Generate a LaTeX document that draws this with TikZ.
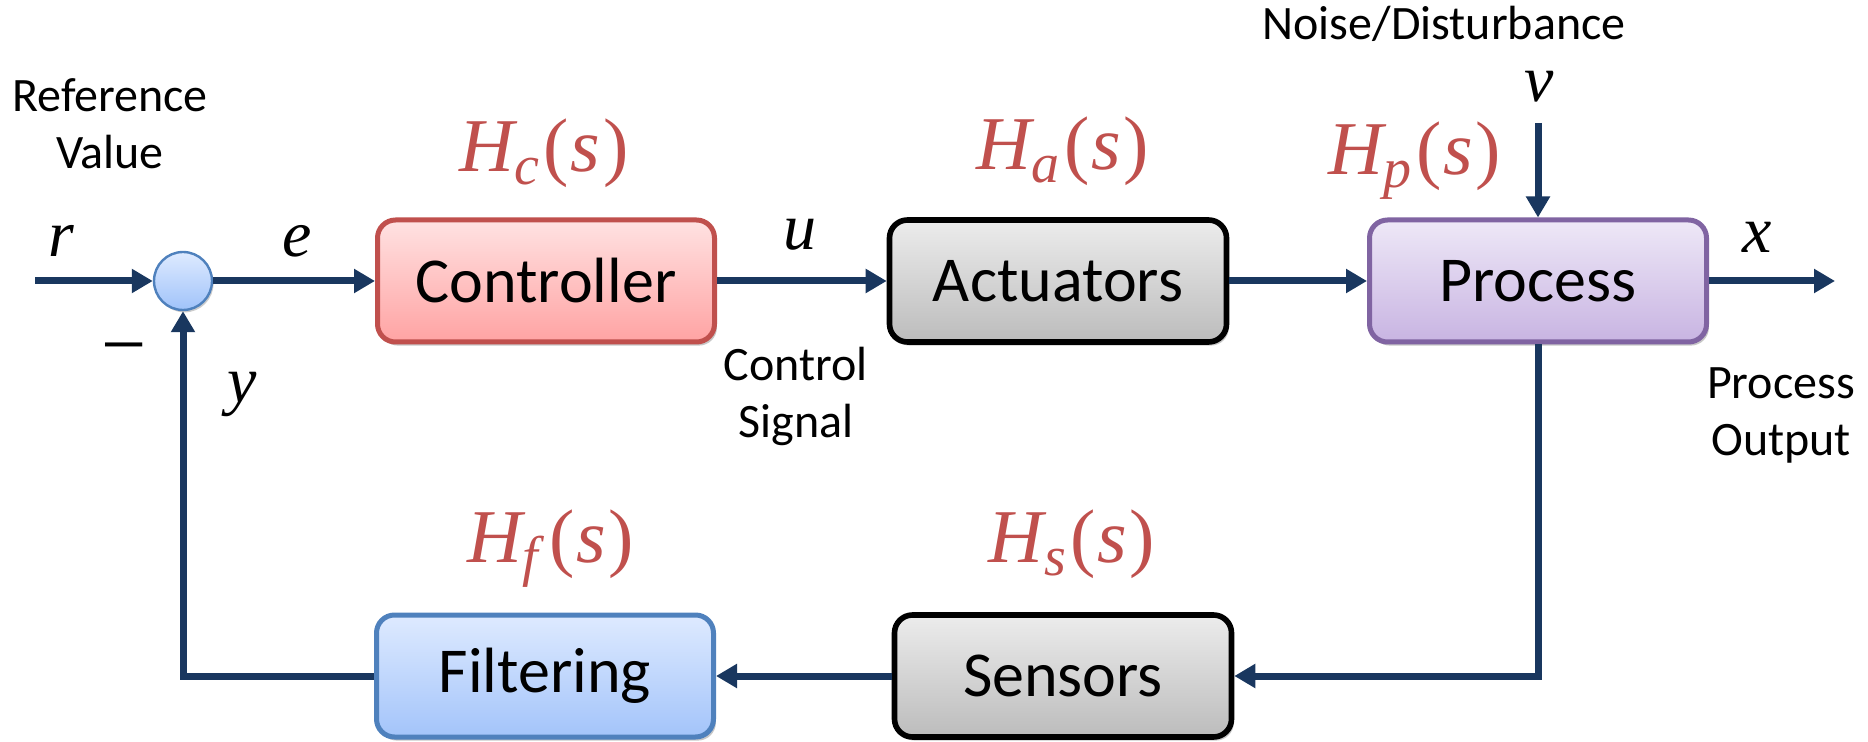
\documentclass[tikz,border=0pt]{standalone}
\usepackage{fontspec}
\setmainfont{Carlito}
\newfontfamily\vf{Liberation Serif}
\usetikzlibrary{arrows.meta,shadows}
\definecolor{arrowc}{RGB}{25,55,95}
\definecolor{hred}{RGB}{192,80,77}
\definecolor{ctrlline}{RGB}{192,80,77}
\definecolor{procline}{RGB}{128,100,162}
\definecolor{filtline}{RGB}{79,129,189}
\newcommand{\tfH}[1]{\textit{H}\kern-0.04em\raisebox{-0.17em}{\fontsize{28}{28}\selectfont\textit{#1}}\kern0.06em(\kern0.02em\textit{s}\kern0.04em)}
\begin{document}
\begin{tikzpicture}[x=0.5pt,y=-0.5pt,
  >={Triangle[length=10.5pt,width=11.5pt]},
  sig/.style={draw=arrowc, line width=3.5pt, ->},
  blk/.style={rounded corners=9pt, minimum width=168.5pt, minimum height=61pt,
    line width=2.5pt, inner sep=0pt, font=\fontsize{32}{38}\selectfont,
    drop shadow={shadow xshift=1.2pt, shadow yshift=-1.8pt, opacity=0.22, fill=black}},
  ctrlblk/.style={blk, draw=ctrlline, top color={rgb,255:red,255;green,226;blue,226}, bottom color={rgb,255:red,255;green,163;blue,163}},
  grayblk/.style={blk, draw=black, line width=2.8pt, top color={rgb,255:red,236;green,236;blue,236}, bottom color={rgb,255:red,188;green,188;blue,188}},
  procblk/.style={blk, draw=procline, top color={rgb,255:red,238;green,232;blue,247}, bottom color={rgb,255:red,200;green,180;blue,226}},
  filtblk/.style={blk, draw=filtline, top color={rgb,255:red,222;green,234;blue,255}, bottom color={rgb,255:red,163;green,196;blue,250}},
  sumnode/.style={circle, draw=filtline, line width=1.2pt, minimum size=29pt, inner sep=0pt,
    top color={rgb,255:red,222;green,234;blue,255}, bottom color={rgb,255:red,160;green,195;blue,250},
    drop shadow={shadow xshift=0.8pt, shadow yshift=-1.2pt, opacity=0.2, fill=black}},
  var/.style={anchor=base, inner sep=0pt, font=\vf\itshape\fontsize{33}{38}\selectfont},
  tf/.style={anchor=base, inner sep=0pt, text=hred, font=\vf\fontsize{38}{42}\selectfont},
  lbl/.style={inner sep=0pt, align=center, font=\fontsize{24}{28.5}\selectfont}
]
\useasboundingbox (0,0) rectangle (1868,742);

% blocks
\node[sumnode] (sum) at (183,281) {};
\node[ctrlblk] (ctrl) at (546,281) {Controller};
\node[grayblk] (act) at (1058,281) {Actuators};
\node[procblk] (proc) at (1538,281) {Process};
\node[filtblk] (filt) at (545,676) {Filtering};
\node[grayblk] (sens) at (1063,676) {Sensors};

% free ends
\coordinate (rin) at (35,281);
\coordinate (xout) at (1835,281);
\coordinate (vin) at (1538,123);

% connectors
\draw[sig] (rin) -- (sum.west);
\draw[sig] (sum.east) -- (ctrl.west);
\draw[sig] (ctrl.east) -- (act.west);
\draw[sig] (act.east) -- (proc.west);
\draw[sig] (proc.east) -- (xout);
\draw[sig] (vin) -- (proc.north);
\draw[sig] (proc.south) |- (sens.east);
\draw[sig] (sens.west) -- (filt.east);
\draw[sig] (filt.west) -| (sum.south);

% variable labels
\node[var] (lr) at (61,257) {r};
\node[var] (le) at (297,257) {e};
\node[var] (lu) at (800,250) {u};
\node[var] (lx) at (1757,253) {x};
\node[var] (lv) at (1539,102) {v};
\node[var] (ly) at (242,403) {y};
\node[inner sep=0pt, font=\vf\fontsize{40}{40}\selectfont] (lminus) at (124,357) {\char"2212};

% transfer functions
\node[tf] (hc) at (544,172) {\tfH{c}};
\node[tf] (ha) at (1063,170) {\tfH{a}};
\node[tf] (hp) at (1415,175) {\tfH{p}};
\node[tf] (hf) at (551,563) {\tfH{f}};
\node[tf] (hs) at (1072,563) {\tfH{s}};

% text labels
\node[lbl] (refv) at (110,124) {Reference\\Value};
\node[lbl] (csig) at (796,396) {Control\\Signal};
\node[lbl] (pout) at (1781,415) {Process\\Output};
\node[lbl, anchor=base] (noise) at (1444,40) {Noise/Disturbance};
\end{tikzpicture}
\end{document}
